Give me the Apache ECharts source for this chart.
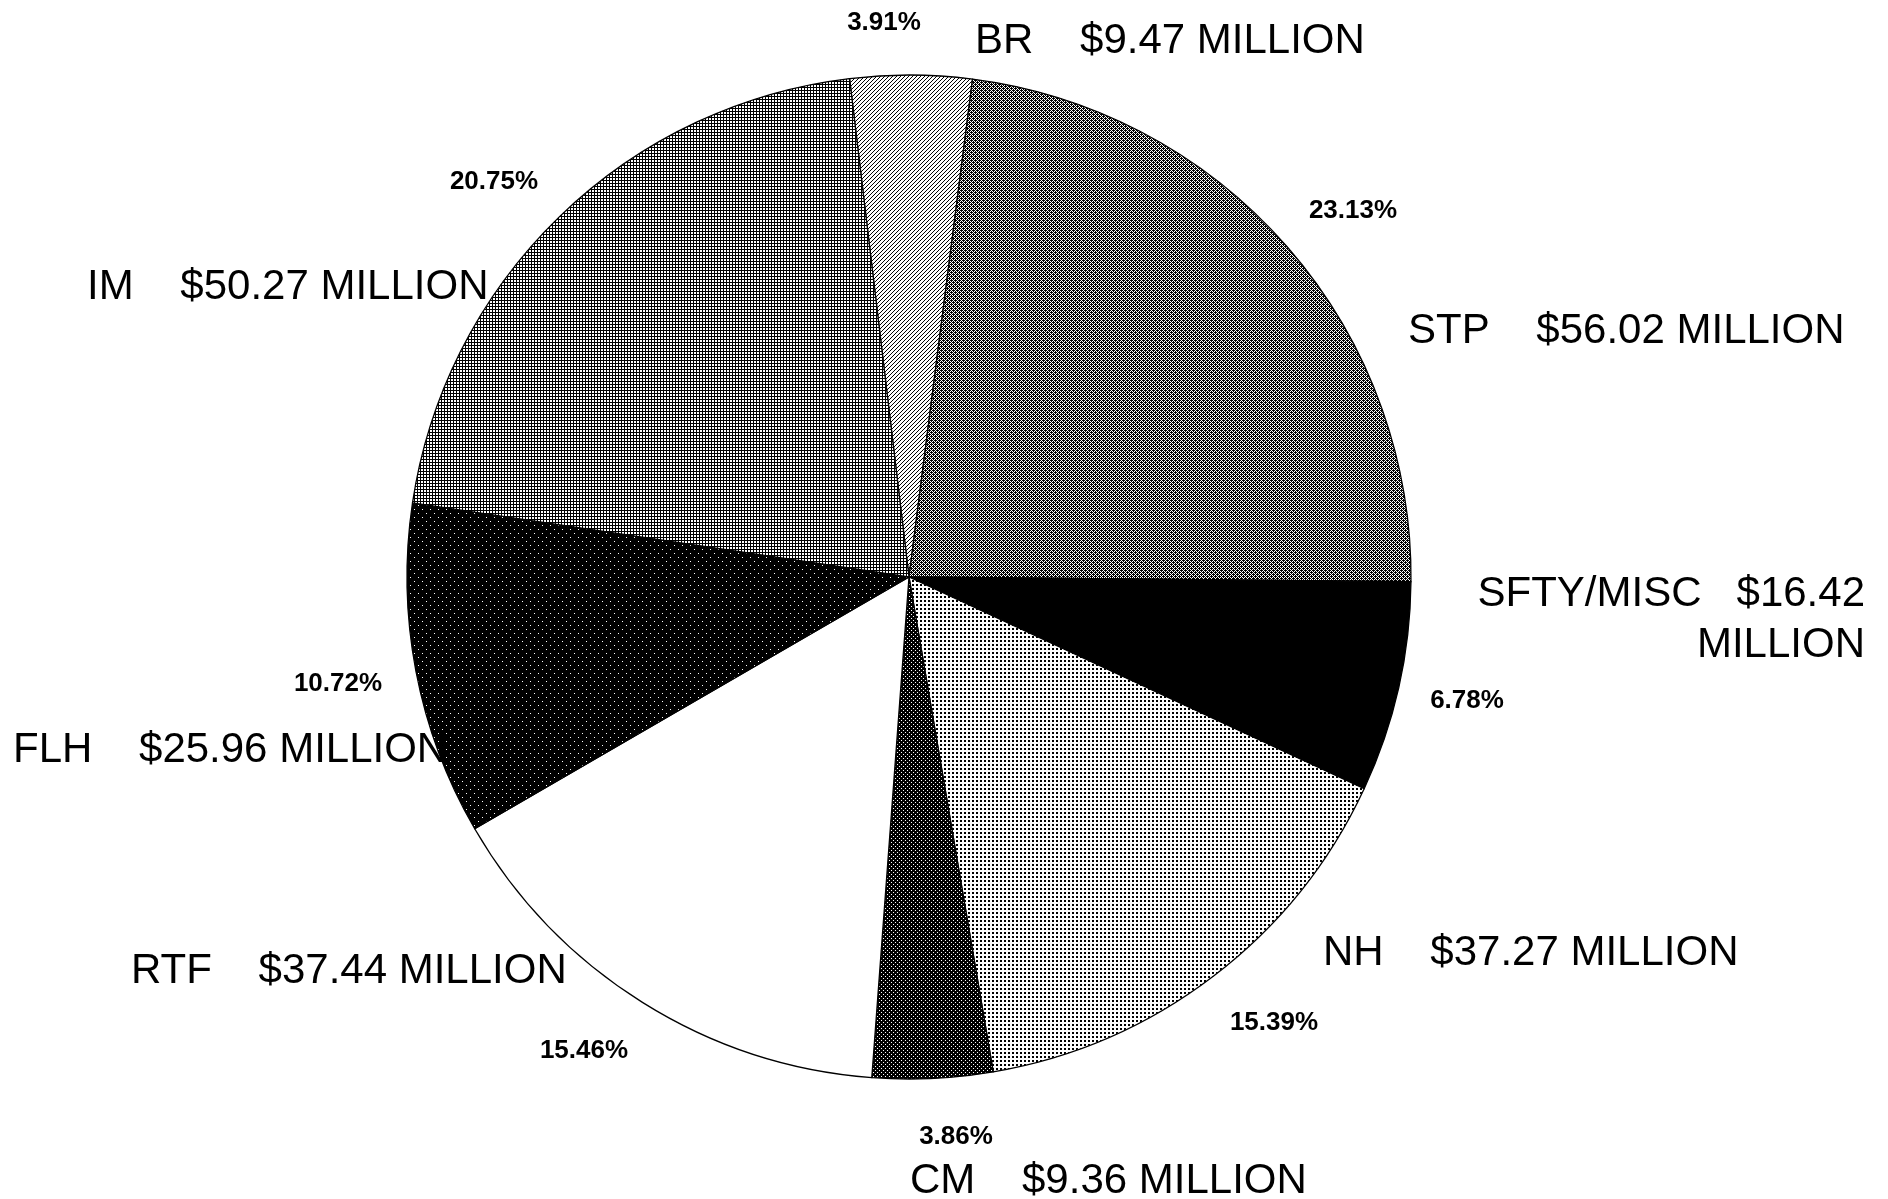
<!DOCTYPE html>
<html>
<head>
<meta charset="utf-8">
<script src="https://cdn.jsdelivr.net/npm/echarts@6/dist/echarts.min.js"></script>
<style>
  html, body { margin: 0; background: #fff; }
  #chart { width: 1888px; height: 1199px; }
</style>
</head>
<body>
<div id="chart"></div>
<script>
const programs = ['BR', 'STP', 'SFTY/MISC', 'NH', 'CM', 'RTF', 'FLH', 'IM'];
const amounts = [9.47, 56.02, 16.42, 37.27, 9.36, 37.44, 25.96, 50.27]; // $ million
const shares = ['3.91%', '23.13%', '6.78%', '15.39%', '3.86%', '15.46%', '10.72%', '20.75%'];

// where the captions sit on the page (px)
const nameAnchor = [[975, 41], [1408, 331], [1865, 620], [1323, 953], [910, 1181], [131, 971], [13, 750], [87, 287]];
const nameAlign = ['left', 'left', 'right', 'left', 'left', 'left', 'left', 'left'];
const shareAnchor = [[884, 23], [1353, 211], [1467, 701], [1274, 1023], [956, 1137], [584, 1051], [338, 684], [494, 182]];

// small bitmap fills, like the old printer patterns
function pattern(size, isInk) {
  const c = document.createElement('canvas');
  c.width = size; c.height = size;
  const ctx = c.getContext('2d');
  ctx.fillStyle = '#fff';
  ctx.fillRect(0, 0, size, size);
  ctx.fillStyle = '#000';
  for (let y = 0; y < size; y++) {
    for (let x = 0; x < size; x++) {
      if (isInk(x, y)) ctx.fillRect(x, y, 1, 1);
    }
  }
  return { image: c, repeat: 'repeat' };
}

const fills = [
  pattern(4, (x, y) => (x + y) % 4 === 0),                                            // BR  diagonal hatch
  pattern(4, (x, y) => (x + y) % 2 === 0 || (x === 1 && y === 2) || (x === 3 && y === 0)), // STP cross hatch
  '#000',                                                                             // SFTY/MISC
  pattern(4, (x, y) => x < 2 && y < 2),                                               // NH  dots
  pattern(4, (x, y) => !((x === 1 && y === 0) || (x === 3 && y === 2))),              // CM
  '#fff',                                                                             // RTF
  pattern(8, (x, y) => !((x === 2 && y === 1) || (x === 6 && y === 5))),              // FLH
  pattern(3, (x, y) => x === 0 || y === 0),                                           // IM  grid
];

const chart = echarts.init(document.getElementById('chart'), null, { renderer: 'canvas' });

const font = "'Liberation Sans', Arial, sans-serif";
const pieBase = {
  type: 'pie',
  center: [909, 577],
  radius: 502,
  startAngle: 96.8,
  clockwise: true,
  avoidLabelOverlap: false,
  animation: false,
  labelLine: { show: false },
  emphasis: { disabled: true },
};

chart.setOption({
  backgroundColor: '#fff',
  series: [
    {
      ...pieBase,
      data: programs.map((p, i) => ({
        name: p,
        value: amounts[i],
        itemStyle: { color: fills[i] },
      })),
      itemStyle: { borderColor: '#000', borderWidth: 1.3 },
      label: {
        show: true,
        position: 'outside',
        color: '#000',
        fontFamily: font,
        fontSize: 42,
        lineHeight: 51,
        formatter: (p) => {
          const v = '$' + amounts[p.dataIndex].toFixed(2);
          if (p.name === 'SFTY/MISC') return p.name + '   ' + v + '\nMILLION';
          return p.name + '    ' + v + ' MILLION';
        },
      },
      labelLayout: (p) => ({
        x: nameAnchor[p.dataIndex][0],
        y: nameAnchor[p.dataIndex][1],
        align: nameAlign[p.dataIndex],
        verticalAlign: 'middle',
      }),
    },
    {
      ...pieBase,
      silent: true,
      z: 3,
      data: programs.map((p, i) => ({ name: p, value: amounts[i] })),
      itemStyle: { color: 'rgba(0,0,0,0)', borderWidth: 0 },
      label: {
        show: true,
        position: 'outside',
        color: '#000',
        fontFamily: font,
        fontWeight: 'bold',
        fontSize: 26,
        formatter: (p) => shares[p.dataIndex],
      },
      labelLayout: (p) => ({
        x: shareAnchor[p.dataIndex][0],
        y: shareAnchor[p.dataIndex][1],
        align: 'center',
        verticalAlign: 'middle',
      }),
    },
  ],
});
</script>
</body>
</html>
